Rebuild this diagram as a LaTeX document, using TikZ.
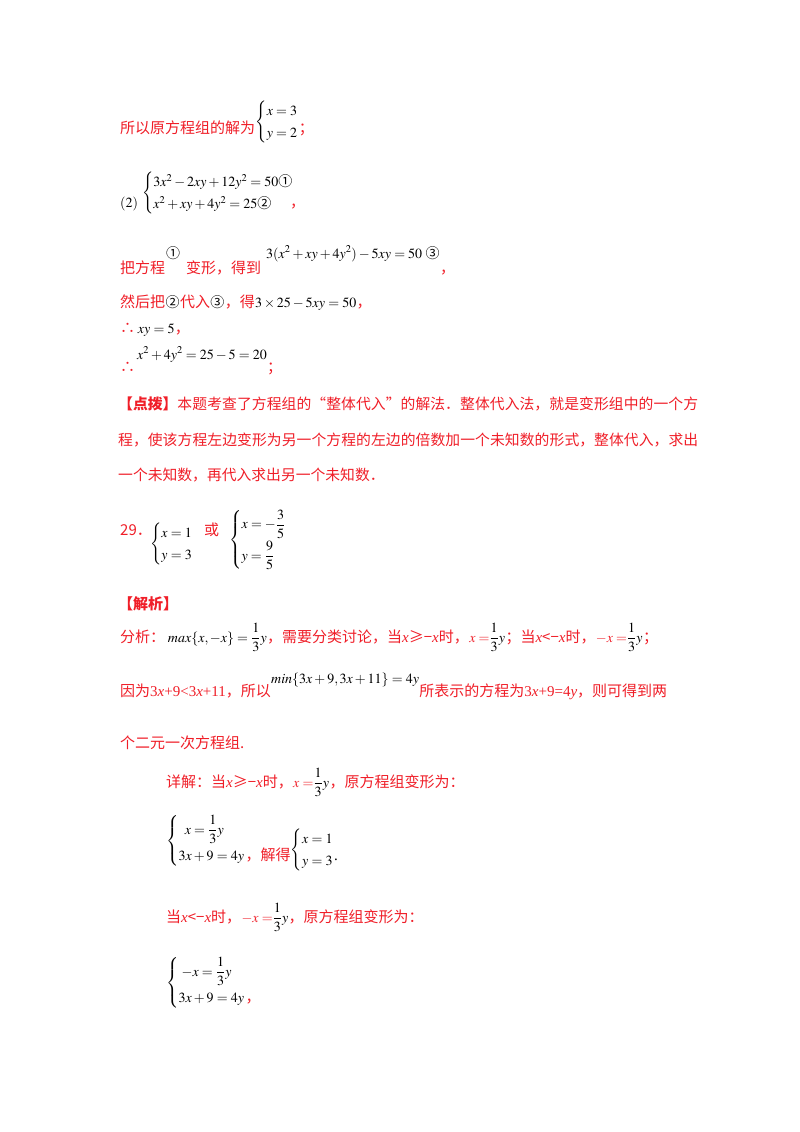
\documentclass[tikz,border=0pt]{standalone}
\usepackage{amsmath}
\usepackage{mathptmx}
\usepackage{fontspec}
\setmainfont{Liberation Serif}
\newfontfamily\cjk{Noto Sans CJK SC}
\XeTeXlinebreaklocale "zh"
\XeTeXlinebreakskip=0pt plus 1pt
\definecolor{rd}{RGB}{240,30,40}
\newcommand{\zh}[1]{{\cjk\color{rd}#1}}
\newcommand{\cn}[1]{{\cjk #1}}
\newcommand{\cs}[1]{\left\{\renewcommand{\arraystretch}{1.3}\begin{array}{@{}l@{}}#1\end{array}\right.}
\begin{document}
\begin{tikzpicture}[x=1pt,y=-1pt,
  t/.style={anchor=base west,inner sep=0pt,font=\fontsize{15}{18}\selectfont},
  m/.style={anchor=base west,inner sep=0pt,font=\fontsize{14}{17}\selectfont}]
\useasboundingbox (0,0) rectangle (800,1132);
\fill[white] (0,0) rectangle (800,1132);
\node[t] (a1) at (120,133) {\zh{所以原方程组的解为}};
\node[m,anchor=west] (a2) at (a1.east) [yshift=5pt] {$\cs{x=3\\ y=2}$};
\node[t] (a3) at (a2.east|-a1.base) {\zh{；}};
\node[m] (b1) at (120,207) {$(2)$};
\node[m,anchor=west] (b2) at (142,193) {$\cs{3x^2-2xy+12y^2=50\text{\cn{①}}\\ x^2+xy+4y^2=25\text{\cn{②}}}$};
\node[t] (b3) at (290,207) {\zh{，}};
\node[t] (c1) at (120,273) {\zh{把方程}};
\node[m] (c2) at (166,258) {\cn{①}};
\node[t] (c3) at (186,273) {\zh{变形，得到}};
\node[m] (c4) at (266,258) {$3(x^2+xy+4y^2)-5xy=50$ \cn{③}};
\node[t] (c5) at (c4.east|-c3.base) {\zh{，}};
\node[t] (d1) at (120,307) {\zh{然后把}};
\node[m] (d2) at (d1.base east) {\cn{②}};
\node[t] (d3) at (d2.base east) {\zh{代入}};
\node[m] (d4) at (d3.base east) {\cn{③}};
\node[t] (d5) at (d4.base east) {\zh{，得}};
\node[m] (d6) at (d5.base east) {$3\times25-5xy=50$};
\node[t] (d7) at (d6.base east) {\zh{，}};
\node[t] (e1) at (120,333) {\zh{∴}};
\node[m] (e2) at (e1.base east) {\,$xy=5$};
\node[t] (e3) at (e2.base east) {\zh{，}};
\node[t] (f1) at (120,372) {\zh{∴}};
\node[m] (f2) at (137,359) {$x^2+4y^2=25-5=20$};
\node[t] (f3) at (f2.east|-f1.base) {\zh{；}};
\node[t,text width=580pt,anchor=north west,align=justify] (g) at (118,397)
 {\fontsize{14.8}{35.5}\selectfont\cjk\color{rd}\textbf{【点拨】}本题考查了方程组的“整体代入”的解法．整体代入法，就是变形组中的一个方程，使该方程左边变形为另一个方程的左边的倍数加一个未知数的形式，整体代入，求出一个未知数，再代入求出另一个未知数．\par};
\node[t] (h1) at (120,535) {\zh{29．}};
\node[m,anchor=west] (h2) at (150,544) {$\cs{x=1\\ y=3}$};
\node[t] (h3) at (204,535) {\zh{或}};
\node[m,anchor=west] (h4) at (229,540) {$\cs{x=-\dfrac35\\[6pt] y=\dfrac95}$};
\node[t] (i1) at (118,609) {\zh{\textbf{【解析】}}};
\node[t] (j1) at (120,642) {\zh{分析：}};
\node[m] (j2) at (j1.base east) {\,$max\{x,-x\}=\dfrac13y$};
\node[t] (j3) at (j2.base east) {\zh{，需要分类讨论，当{\rmfamily\itshape x}≥−{\rmfamily\itshape x}时，}};
\node[m] (j4) at (j3.base east) {\color{rd}$x=$\color{black}$\dfrac13y$};
\node[t] (j5) at (j4.base east) {\zh{；当{\rmfamily\itshape x}<−{\rmfamily\itshape x}时，}};
\node[m] (j6) at (j5.base east) {\color{rd}$-x=$\color{black}$\dfrac13y$};
\node[t] (j7) at (j6.base east) {\zh{；}};
\node[t] (k1) at (120,696) {\zh{因为{\rmfamily 3\itshape x\upshape +9<3\itshape x\upshape +11}，所以}};
\node[m] (k2) at (k1.base east) [yshift=13pt] {$min\{3x+9,3x+11\}=4y$};
\node[t] (k3) at (k2.east|-k1.base) {\zh{所表示的方程为{\rmfamily 3\itshape x\upshape +9=4\itshape y}，则可得到两}};
\node[t] (l1) at (120,748) {\zh{个二元一次方程组.}};
\node[t] (m1) at (166,787) {\zh{详解：当{\rmfamily\itshape x}≥−{\rmfamily\itshape x}时，}};
\node[m] (m2) at (m1.base east) {\color{rd}$x=$\color{black}$\dfrac13y$};
\node[t] (m3) at (m2.base east) {\zh{，原方程组变形为：}};
\node[m,anchor=west] (n1) at (166,841) {$\cs{\;\;x=\dfrac13y\\[4pt] 3x+9=4y}$};
\node[t] (n2) at (n1.east|-0,860) {\zh{，解得}};
\node[m,anchor=west] (n3) at (n2.east|-0,850) {$\cs{x=1\\ y=3}$};
\node[t] (n4) at (n3.east|-0,860) {.};
\node[t] (o1) at (166,922) {\zh{当{\rmfamily\itshape x}<−{\rmfamily\itshape x}时，}};
\node[m] (o2) at (o1.base east) {\color{rd}$-x=$\color{black}$\dfrac13y$};
\node[t] (o3) at (o2.base east) {\zh{，原方程组变形为：}};
\node[m,anchor=west] (p1) at (166,983) {$\cs{\;-x=\dfrac13y\\[4pt] 3x+9=4y}$};
\node[t] (p2) at (p1.east|-0,1002) {\zh{，}};
\end{tikzpicture}
\end{document}
